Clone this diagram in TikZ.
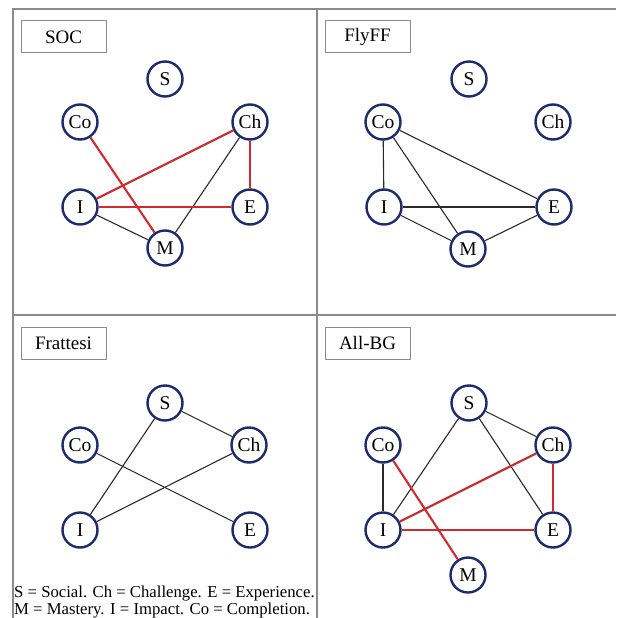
\documentclass[tikz,border=0pt]{standalone}
\usepackage{fontspec}
\setmainfont{Liberation Serif}
\definecolor{navy}{HTML}{1C2A6E}
\definecolor{edgered}{HTML}{D02A2E}
\definecolor{framegray}{HTML}{8A8A8A}
\definecolor{edgeblack}{HTML}{2A2A2A}
\begin{document}
\begin{tikzpicture}[x=1pt,y=-1pt,
  vnode/.style={circle,draw=navy,line width=2.4pt,minimum size=35pt,inner sep=0pt,fill=white,font=\fontsize{19.5}{19.5}\selectfont},
  lbox/.style={draw=framegray,line width=1pt,minimum width=85pt,minimum height=32pt,inner sep=0pt,font=\fontsize{19}{19}\selectfont},
  frame/.style={draw=framegray,line width=1.1pt},
  bl/.style={draw=edgeblack,line width=1.1pt},
  rd/.style={draw=edgered,line width=2.1pt}]
\useasboundingbox (0,0) rectangle (616,618);
\fill[white] (0,0) rectangle (616,618);
% frame
\draw[frame] (13,618) -- (13,9) -- (616,9);
\draw[frame] (317,9) -- (317,618);
\draw[frame] (13,315) -- (616,315);
% labels
\node[lbox] (la) at (63.5,37) {SOC};
\node[lbox] (lb) at (367.5,37) {FlyFF};
\node[lbox] (lc) at (63.5,343) {Frattesi};
\node[lbox] (ld) at (367.5,343) {All-BG};
% nodes a
\node[vnode] (aS) at (165,79) {S};
\node[vnode] (aCo) at (80,122) {Co};
\node[vnode] (aCh) at (250,122) {Ch};
\node[vnode] (aI) at (80,207) {I};
\node[vnode] (aE) at (250,207) {E};
\node[vnode] (aM) at (165,248) {M};
% nodes b
\node[vnode] (bS) at (469,79) {S};
\node[vnode] (bCo) at (383,122) {Co};
\node[vnode] (bCh) at (553,122) {Ch};
\node[vnode] (bI) at (384,207) {I};
\node[vnode] (bE) at (554,207) {E};
\node[vnode] (bM) at (468,249) {M};
% nodes c
\node[vnode] (cS) at (165,403) {S};
\node[vnode] (cCo) at (80,445) {Co};
\node[vnode] (cCh) at (249,445) {Ch};
\node[vnode] (cI) at (80,530) {I};
\node[vnode] (cE) at (250,530) {E};
% nodes d
\node[vnode] (dS) at (469,403) {S};
\node[vnode] (dCo) at (383,445) {Co};
\node[vnode] (dCh) at (553,445) {Ch};
\node[vnode] (dI) at (383,530) {I};
\node[vnode] (dE) at (553,530) {E};
\node[vnode] (dM) at (468,575) {M};
% edges a
\draw[bl] (aI) -- (aM);
\draw[bl] (aM) -- (aCh);
\draw[rd] (aCo) -- (aM);
\draw[rd] (aI) -- (aCh);
\draw[rd] (aI) -- (aE);
\draw[rd] (aCh) -- (aE);
% edges b
\draw[bl] (bCo) -- (bI);
\draw[bl] (bCo) -- (bM);
\draw[bl] (bCo) -- (bE);
\draw[bl] (bI) -- (bE);
\draw[bl] (bI) -- (bM);
\draw[bl] (bM) -- (bE);
% edges c
\draw[bl] (cS) -- (cI);
\draw[bl] (cS) -- (cCh);
\draw[bl] (cCo) -- (cE);
\draw[bl] (cI) -- (cCh);
% edges d
\draw[bl] (dS) -- (dI);
\draw[bl] (dS) -- (dCh);
\draw[bl] (dS) -- (dE);
\draw[bl] (dCo) -- (dI);
\draw[rd] (dCo) -- (dM);
\draw[rd] (dI) -- (dCh);
\draw[rd] (dCh) -- (dE);
\draw[rd] (dI) -- (dE);
% legend
\node[anchor=base west,inner sep=0pt,font=\fontsize{16.7}{16.7}\selectfont] (leg1) at (14,597) {S = Social. Ch = Challenge. E = Experience.};
\node[anchor=base west,inner sep=0pt,font=\fontsize{16.7}{16.7}\selectfont] (leg2) at (14,614) {M = Mastery. I = Impact. Co = Completion.};
\end{tikzpicture}
\end{document}
